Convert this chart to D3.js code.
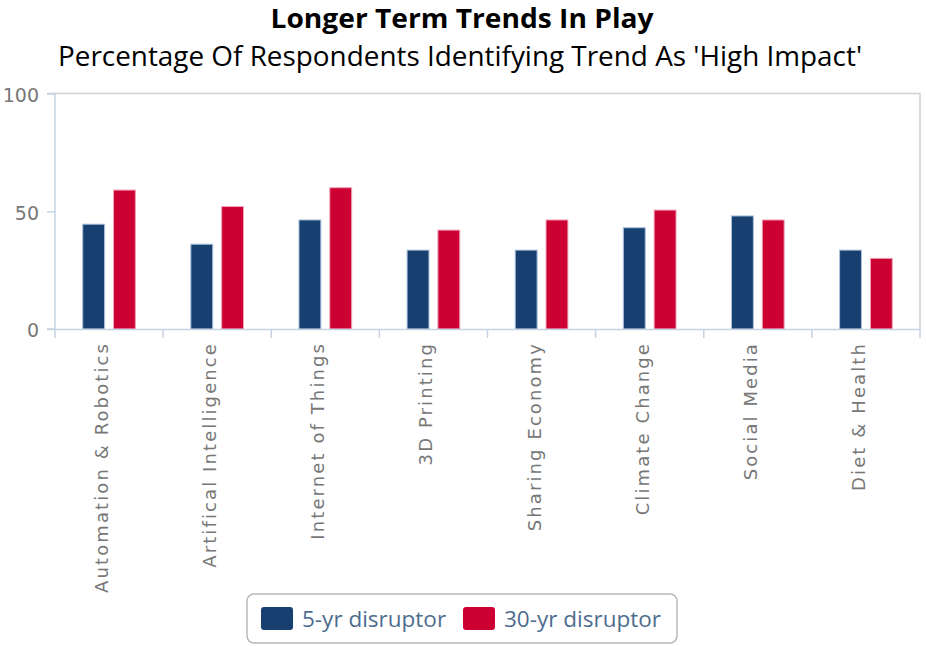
<!DOCTYPE html>
<html><head><meta charset="utf-8">
<script src="https://cdn.jsdelivr.net/npm/d3@7"></script>
<style>body{margin:0;background:#fff}</style>
</head><body>
<svg id="c" width="926" height="646"></svg>
<script>
const categories = ["Automation & Robotics","Artifical Intelligence","Internet of Things","3D Printing","Sharing Economy","Climate Change","Social Media","Diet & Health"];
const series5 = [44.5, 36, 46.3, 33.5, 33.5, 43, 48, 33.5];
const series30 = [59, 52, 60, 42, 46.3, 50.5, 46.3, 30];
const seriesNames = ["5-yr disruptor","30-yr disruptor"];
const colors = ["#173f70","#cc0033"];
const strokes = ["#a9bfdc","#f0a3b8"];
const yTicks = [0,50,100];

const svg = d3.select("#c");
const L=55, R=920, T=93.5, B=329;
const x = d3.scaleBand().domain(categories).range([L,R]);
const y = d3.scaleLinear().domain([0,100]).range([B,T]);
const inner = d3.scaleBand().domain([0,1]).range([0, x.bandwidth()]).paddingInner(0.29).paddingOuter(0.9);

svg.append("text").attr("x",462).attr("y",28).attr("text-anchor","middle")
  .attr("font-family","Open Sans").attr("font-weight","bold").attr("font-size",26).attr("fill","#000")
  .attr("textLength",383).attr("lengthAdjust","spacingAndGlyphs")
  .text("Longer Term Trends In Play");
svg.append("text").attr("x",460).attr("y",66).attr("text-anchor","middle")
  .attr("font-family","Open Sans").attr("font-size",27).attr("fill","#000")
  .attr("textLength",804).attr("lengthAdjust","spacingAndGlyphs")
  .text("Percentage Of Respondents Identifying Trend As 'High Impact'");

// frame top/right
svg.append("path").attr("d",`M${L},${T}H${R}V${B}`).attr("fill","none").attr("stroke","#d0d0d0").attr("stroke-width",1.5);

const data = categories.map((c,i)=>({c, v:[series5[i], series30[i]]}));
const g = svg.append("g");
data.forEach(d=>{
  d.v.forEach((v,k)=>{
    g.append("rect").attr("x", x(d.c)+inner(k)).attr("width", inner.bandwidth())
     .attr("y", y(v)).attr("height", y(0)-y(v))
     .attr("fill", colors[k]).attr("stroke", strokes[k]).attr("stroke-width",1);
  });
});

// y axis
const ya = svg.append("g").attr("transform",`translate(${L},0)`)
  .call(d3.axisLeft(y).tickValues(yTicks).tickSize(8).tickPadding(8));
ya.select(".domain").attr("stroke","#c5d3e3").attr("stroke-width",1.5).attr("d",`M-8,${T}H0V${B}H-8`);
ya.selectAll(".tick line").attr("stroke","#c5d3e3").attr("stroke-width",1.5);
ya.selectAll(".tick text").attr("font-family","DejaVu Sans").attr("font-size",19).attr("fill","#777").attr("dy","0.42em").attr("x",-16);

// x axis
const xa = svg.append("g").attr("transform",`translate(0,${B})`)
  .call(d3.axisBottom(x).tickSize(0).tickFormat(""));
xa.select(".domain").attr("stroke","#c5d3e3").attr("stroke-width",1.5);
const bounds = categories.map(c=>x(c)).concat([R]);
xa.selectAll(".sep").data(bounds).enter().append("line").attr("class","sep")
  .attr("x1",d=>d).attr("x2",d=>d).attr("y1",0).attr("y2",9).attr("stroke","#c5d3e3").attr("stroke-width",1.5);
xa.selectAll(".lbl").data(categories).enter().append("text").attr("class","lbl")
  .attr("transform",d=>`translate(${x(d)+x.bandwidth()/2-1},13) rotate(-90)`)
  .attr("text-anchor","end").attr("dy","0.0em")
  .attr("font-family","DejaVu Sans").attr("font-size",18).attr("letter-spacing","2.1px").attr("fill","#777")
  .text(d=>d);

// legend
const lg = svg.append("g");
lg.append("rect").attr("x",247).attr("y",594).attr("width",430).attr("height",49).attr("rx",7)
  .attr("fill","#fff").attr("stroke","#b8b8b8").attr("stroke-width",1.5);
const lx = [261, 463];
seriesNames.forEach((n,k)=>{
  lg.append("rect").attr("x",lx[k]).attr("y",607).attr("width",32).attr("height",23).attr("rx",3).attr("fill",colors[k]);
  lg.append("text").attr("x",lx[k]+41).attr("y",627).attr("font-family","Open Sans").attr("font-size",22.5)
    .attr("fill","#4d6d8e").text(n);
});
</script>
</body></html>
